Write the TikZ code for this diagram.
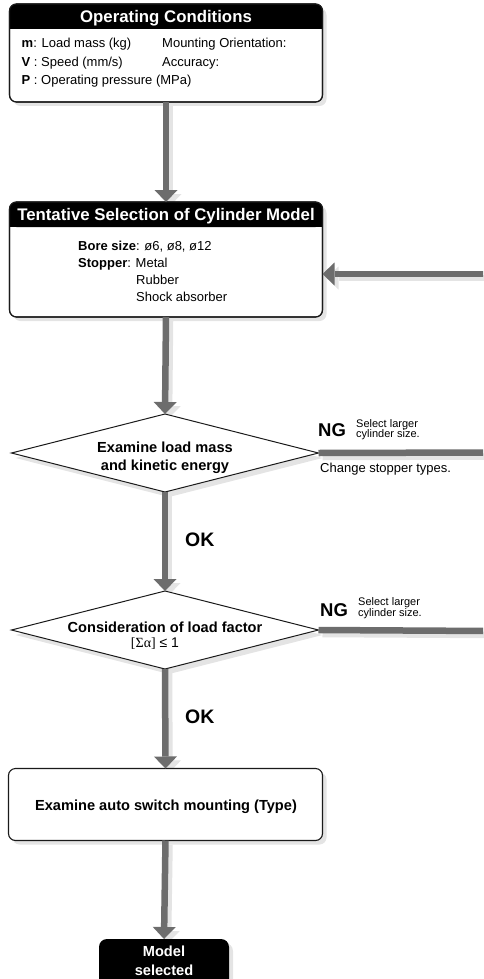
\documentclass[tikz,border=0pt]{standalone}
\usepackage{fontspec}
\setmainfont{Liberation Sans}
\newfontfamily\greekserif{Liberation Serif}
\usetikzlibrary{arrows.meta,shapes.geometric,shadows}
\definecolor{arrowgray}{HTML}{6D6D6D}
\definecolor{shadowgray}{HTML}{E4E4E4}
\definecolor{bordercol}{HTML}{1A1A1A}
\pgfdeclarelayer{bg}
\pgfsetlayers{bg,main}
\tikzset{
  boxshadow/.style={drop shadow={shadow xshift=4pt,shadow yshift=-4pt,fill=shadowgray,opacity=1}},
  flowbox/.style={draw=bordercol,line width=1.1pt,fill=white,rounded corners=7pt,inner sep=0pt,outer sep=0pt,boxshadow},
  decision/.style={diamond,draw=bordercol,line width=1pt,fill=white,inner sep=0pt,outer sep=0pt,
    minimum width=307pt,minimum height=78pt,
    drop shadow={shadow xshift=4pt,shadow yshift=-5pt,fill=shadowgray,opacity=1}},
  endbox/.style={fill=black,rounded corners=8pt,inner sep=0pt,outer sep=0pt,minimum width=130pt,minimum height=50pt,boxshadow},
  tiparrow/.style={-{Triangle[width=23pt,length=12pt,line width=0pt]}},
  flowarrow/.style={draw=arrowgray,line width=6.5pt,tiparrow},
  flowline/.style={draw=arrowgray,line width=6.5pt},
  shadowarrow/.style={draw=shadowgray,line width=6.5pt,tiparrow,transform canvas={xshift=4pt,yshift=-4pt}},
  shadowline/.style={draw=shadowgray,line width=6.5pt,transform canvas={xshift=4pt,yshift=-4pt}},
  headtext/.style={text=white,font=\fontsize{16.8}{20}\selectfont\bfseries,inner sep=0pt,anchor=base},
  bodytext/.style={font=\fontsize{13}{15}\selectfont,inner sep=0pt,anchor=base west},
  smalltext/.style={font=\fontsize{11}{11}\selectfont,inner sep=0pt,anchor=base west},
  ngtext/.style={font=\fontsize{18.5}{20}\selectfont\bfseries,inner sep=0pt,anchor=base west},
  oktext/.style={font=\fontsize{19.5}{20}\selectfont\bfseries,inner sep=0pt,anchor=base west},
  dectext/.style={font=\fontsize{14.6}{18}\selectfont\bfseries,inner sep=0pt,anchor=base},
}
\begin{document}
\begin{tikzpicture}[x=1pt,y=1pt]
\useasboundingbox (0,0) rectangle (483,-979);
\clip (0,0) rectangle (483,-979);

% ---------- Box 1 ----------
\node[flowbox,minimum width=313pt,minimum height=98pt] (box1) at (166,-53) {};
\fill[black,rounded corners=7pt] (box1.north west) rectangle ([yshift=-25pt]box1.north east);
\fill[black] ([yshift=-12pt]box1.north west) rectangle ([yshift=-25pt]box1.north east);
\draw[draw=bordercol,line width=1.1pt,rounded corners=7pt] (box1.north west) rectangle (box1.south east);
\node[headtext] (h1) at (166,-22.5) {Operating Conditions};
\node[bodytext] (m1) at (21.5,-48) {\textbf{m}: Load mass (kg)};
\node[bodytext] (v1) at (21.5,-66.5) {\textbf{V} : Speed (mm/s)};
\node[bodytext] (p1) at (21.5,-84.5) {\textbf{P} : Operating pressure (MPa)};
\node[bodytext] (mo1) at (162,-48) {Mounting Orientation:};
\node[bodytext] (ac1) at (162,-66.5) {Accuracy:};

% ---------- Box 2 ----------
\node[flowbox,minimum width=313pt,minimum height=115pt] (box2) at (166,-259.5) {};
\fill[black,rounded corners=7pt] (box2.north west) rectangle ([yshift=-25pt]box2.north east);
\fill[black] ([yshift=-12pt]box2.north west) rectangle ([yshift=-25pt]box2.north east);
\draw[draw=bordercol,line width=1.1pt,rounded corners=7pt] (box2.north west) rectangle (box2.south east);
\node[headtext] (h2) at (166,-220.5) {Tentative Selection of Cylinder Model};
\node[bodytext] (bore) at (78,-250) {\textbf{Bore size}: ø6, ø8, ø12};
\node[bodytext] (stop) at (78,-267) {\textbf{Stopper}: Metal};
\node[bodytext] (rub) at (136,-284) {Rubber};
\node[bodytext] (shock) at (136,-301) {Shock absorber};

% ---------- Decision 1 ----------
\node[decision] (d1) at (165,-453) {};
\node[dectext] (d1a) at (165,-452.5) {Examine load mass};
\node[dectext] (d1b) at (165,-470.5) {and kinetic energy};
\node[ngtext] (ng1) at (318,-436.5) {NG};
\node[smalltext] (sel1) at (356,-427) {Select larger};
\node[smalltext] (cyl1) at (356,-437) {cylinder size.};
\node[bodytext] (chg) at (320,-472.5) {Change stopper types.};
\node[oktext] (ok1) at (185,-546.5) {OK};

% ---------- Decision 2 ----------
\node[decision] (d2) at (165,-630) {};
\node[dectext] (d2a) at (165,-632.5) {Consideration of load factor};
\node[font=\fontsize{14}{16}\selectfont,inner sep=0pt,anchor=base] (d2b) at (155,-647) {{\greekserif [Σα]} ≤ 1};
\node[ngtext] (ng2) at (320,-616) {NG};
\node[smalltext] (sel2) at (358,-605.5) {Select larger};
\node[smalltext] (cyl2) at (358,-616) {cylinder size.};
\node[oktext] (ok2) at (185,-723) {OK};

% ---------- Box 3 ----------
\node[flowbox,minimum width=314pt,minimum height=72pt] (box3) at (165.5,-804.5) {};
\node[dectext] (b3t) at (166,-810.5) {Examine auto switch mounting (Type)};

% ---------- End ----------
\node[endbox] (fin) at (164,-964) {};
\node[dectext,text=white,anchor=base] (fin1) at (164,-956.5) {Model};
\node[dectext,text=white,anchor=base] (fin2) at (164,-975) {selected};

% ---------- connectors ----------
\coordinate (fbstart) at (490,-274);
\coordinate (ng1end) at (490,-452.5);
\coordinate (ng2end) at (490,-631);

\begin{pgfonlayer}{bg}
\draw[shadowarrow] (box1.south) -- (box2.north);
\draw[shadowarrow] (box2.south) -- (d1.north);
\draw[shadowarrow] (d1.south) -- (d2.north);
\draw[shadowarrow] (d2.south) -- (box3.north);
\draw[shadowarrow] (box3.south) -- (fin.north);
\draw[shadowarrow] (fbstart) -- (fbstart -| box2.east);
\draw[shadowline] (d1.east) -- (ng1end);
\draw[shadowline] (d2.east) -- (ng2end);
\end{pgfonlayer}

\draw[flowarrow] (box1.south) -- (box2.north);
\draw[flowarrow] (box2.south) -- (d1.north);
\draw[flowarrow] (d1.south) -- (d2.north);
\draw[flowarrow] (d2.south) -- (box3.north);
\draw[flowarrow] (box3.south) -- (fin.north);
\draw[flowarrow] (fbstart) -- (fbstart -| box2.east);
\draw[flowline] (d1.east) -- (ng1end);
\draw[flowline] (d2.east) -- (ng2end);
\end{tikzpicture}
\end{document}
